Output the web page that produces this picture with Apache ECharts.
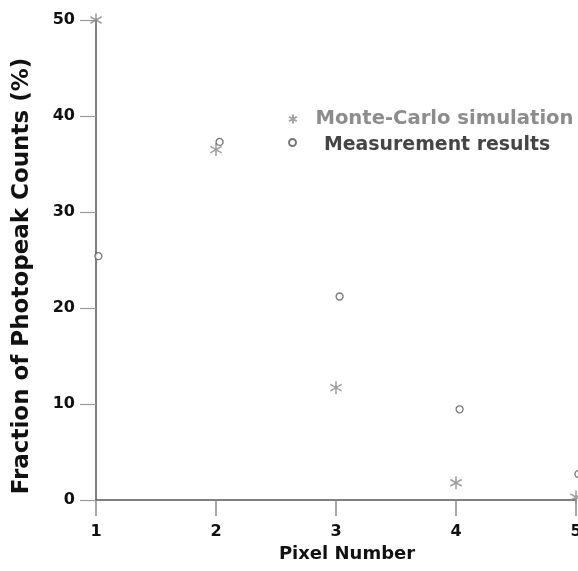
<!DOCTYPE html>
<html>
<head>
<meta charset="utf-8">
<script src="https://cdn.jsdelivr.net/npm/echarts@6/dist/echarts.min.js"></script>
<style>
  html, body { margin: 0; padding: 0; background: #fff; }
  #chart { width: 578px; height: 571px; }
</style>
</head>
<body>
<div id="chart"></div>
<script>
// values
const pixelNumbers = [1, 2, 3, 4, 5]
const monteCarlo = [50, 36.5, 11.7, 1.8, 0.3]
// measured points sit a hair to the right of each pixel number
const measuredX = [1.02, 2.03, 3.03, 4.03, 5.02]
const measured = [25.4, 37.3, 21.2, 9.45, 2.7]
const yTicks = [0, 10, 20, 30, 40, 50]

const FONT = '"DejaVu Sans", "Liberation Sans", sans-serif'
const asterisk = 'path://M0,-1L0,1M-0.866,-0.5L0.866,0.5M-0.866,0.5L0.866,-0.5'

const chart = echarts.init(document.getElementById('chart'))

const legendBase = {
  orient: 'vertical',
  itemWidth: 9,
  itemHeight: 9,
  selectedMode: false,
  formatter: '{t|{name}}'
}

chart.setOption({
  animation: false,
  grid: { left: 96, right: 2, top: 20, bottom: 71, outerBoundsMode: 'none' },
  legend: [
    {
      ...legendBase,
      left: 283,
      top: 104,
      data: ['Monte-Carlo simulation'],
      textStyle: {
        rich: {
          t: { fontFamily: FONT, fontWeight: 'bold', fontSize: 19.6, color: '#8c8c8c', padding: [0, 0, 0, 13] }
        }
      }
    },
    {
      ...legendBase,
      left: 283,
      top: 131,
      itemWidth: 7,
      itemHeight: 7,
      data: ['Measurement results'],
      textStyle: {
        rich: {
          t: { fontFamily: FONT, fontWeight: 'bold', fontSize: 18.9, color: '#454545', padding: [6, 0, 0, 23] }
        }
      }
    }
  ],
  xAxis: {
    type: 'value',
    min: 1,
    max: 5,
    interval: 1,
    name: 'Pixel Number',
    nameLocation: 'middle',
    nameGap: 42,
    nameTextStyle: { fontFamily: FONT, fontWeight: 'bold', fontSize: 18, color: '#111', padding: [0, 0, 0, 22] },
    axisLine: { show: true, lineStyle: { color: '#555', width: 1.5 } },
    axisTick: { show: true, length: 16, lineStyle: { color: '#8a8a8a', width: 1.5 } },
    axisLabel: { margin: 24, fontFamily: FONT, fontWeight: 'bold', fontSize: 16, color: '#111' },
    splitLine: { show: false }
  },
  yAxis: {
    type: 'value',
    min: yTicks[0],
    max: yTicks[yTicks.length - 1],
    interval: 10,
    name: 'Fraction of Photopeak Counts (%)',
    nameLocation: 'middle',
    nameGap: 62,
    nameTextStyle: { fontFamily: FONT, fontWeight: 'bold', fontSize: 23, color: '#111', padding: [0, 32, 0, 0] },
    axisLine: { show: true, lineStyle: { color: '#555', width: 1.5 } },
    axisTick: { show: true, length: 16, lineStyle: { color: '#999', width: 1.2 } },
    axisLabel: { margin: 21, fontFamily: FONT, fontWeight: 'bold', fontSize: 16, color: '#111' },
    splitLine: { show: false }
  },
  series: [
    {
      name: 'Monte-Carlo simulation',
      type: 'scatter',
      clip: false,
      symbol: asterisk,
      symbolKeepAspect: true,
      symbolSize: 13,
      itemStyle: { color: 'rgba(0,0,0,0)', borderColor: '#888', borderWidth: 1.6 },
      data: pixelNumbers.map((x, i) => [x, monteCarlo[i]]),
      z: 3
    },
    {
      name: 'Measurement results',
      type: 'scatter',
      clip: false,
      symbol: 'circle',
      symbolSize: 7,
      itemStyle: { color: '#fff', borderColor: '#555', borderWidth: 1.3 },
      data: measuredX.map((x, i) => [x, measured[i]]),
      z: 4
    }
  ]
})
</script>
</body>
</html>
